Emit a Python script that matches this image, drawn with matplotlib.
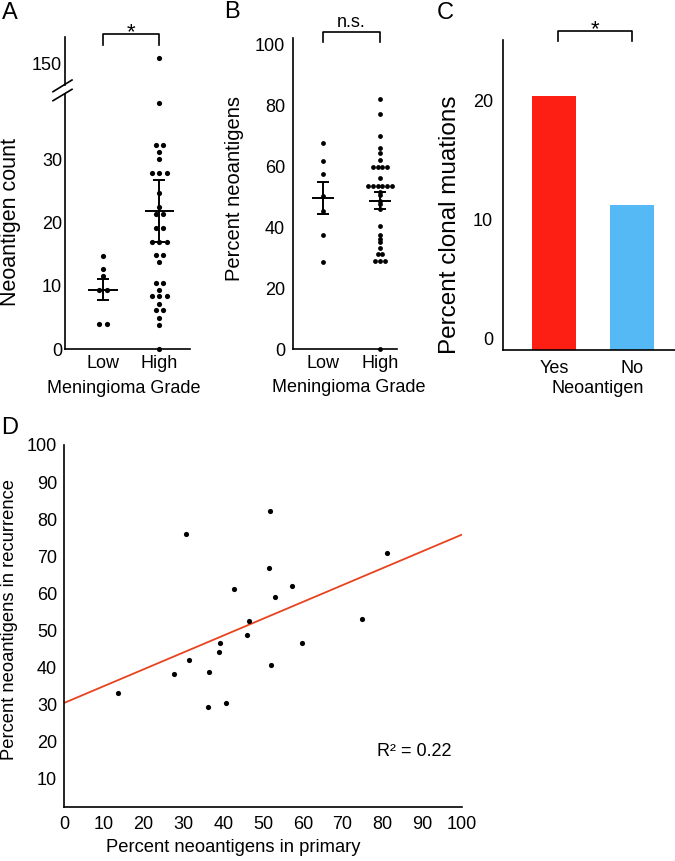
import numpy as np
import matplotlib.pyplot as plt
from matplotlib.lines import Line2D
from matplotlib import transforms

plt.rcParams['font.family'] = ['Liberation Sans', 'DejaVu Sans']

# ---- data ----
grades = ['Low', 'High']

# A: neoantigen count per tumour
count_low = [14.7, 12.6, 11.5, 9.4, 9.4, 3.9, 3.9]
count_high = [150.9, 38.8, 32.2, 32.2, 31.1, 30.0, 27.8, 27.8, 27.8, 24.6,
              22.4, 21.3, 21.3, 19.1, 19.1, 16.9, 16.9, 16.9, 14.8, 14.8,
              13.7, 10.4, 10.4, 9.3, 8.3, 8.3, 8.3, 7.1, 6.1, 6.1, 4.9, 3.8, 0.0]
count_mean = [9.4, 21.8]
count_sem = [1.6, 4.9]

# B: percent neoantigens
pct_low = [67.4, 61.7, 57.5, 50.2, 45.2, 37.5, 28.4]
pct_high = [82.1, 77.1, 70.0, 65.8, 64.2, 61.9, 59.7, 59.7, 59.7, 59.7,
            56.2, 53.4, 53.4, 53.4, 53.4, 53.4, 53.4, 51.5, 50.5, 48.5,
            47.5, 46.0, 40.3, 37.3, 36.2, 35.0, 33.1, 31.2, 31.2, 29.0,
            29.0, 29.0, 0.0]
pct_mean = [49.6, 48.7]
pct_sem = [5.3, 2.7]

# C: percent clonal mutations
neo_groups = ['Yes', 'No']
clonal_pct = [20.4, 11.2]
clonal_colors = ['#fd1f14', '#55b9f5']

# D: primary vs recurrence
primary = [30.7, 51.7, 51.4, 42.8, 53.1, 57.4, 46.5, 45.9, 39.2, 39.0,
           31.4, 27.6, 36.5, 52.0, 13.6, 36.2, 40.6, 81.1, 74.9, 59.9]
recurrence = [75.9, 82.2, 66.7, 61.0, 58.8, 62.0, 52.4, 48.8, 46.4, 44.1,
              42.0, 38.0, 38.6, 40.6, 33.0, 29.1, 30.3, 70.7, 52.9, 46.5]
fit_intercept, fit_slope = 30.3, 0.455
r_squared = 0.22

W, H = 675, 861
fig = plt.figure(figsize=(W / 100, H / 100), dpi=100)


def px_axes(left, top, right, bottom):
    return fig.add_axes([left / W, 1 - bottom / H, (right - left) / W, (bottom - top) / H])


def swarm(values, center, step):
    counts = {}
    for v in values:
        counts[v] = counts.get(v, 0) + 1
    seen = {}
    xs = []
    for v in values:
        n = counts[v]
        i = seen.get(v, 0)
        seen[v] = i + 1
        xs.append(center + (i - (n - 1) / 2) * step)
    return np.array(xs)


def clean(ax, bottom=True):
    for s in ['top', 'right']:
        ax.spines[s].set_visible(False)
    if not bottom:
        ax.spines['bottom'].set_visible(False)
    for s in ax.spines.values():
        s.set_linewidth(1.2)
    ax.tick_params(length=0, labelsize=13)


def bracket(ax, x0, x1, ytop, ybot, label, ylab, size=13):
    tr = transforms.blended_transform_factory(ax.transData, fig.transFigure)
    ax.plot([x0, x0, x1, x1], [1 - ybot / H, 1 - ytop / H, 1 - ytop / H, 1 - ybot / H],
            color='black', lw=1.2, transform=tr, clip_on=False)
    ax.text((x0 + x1) / 2, 1 - ylab / H, label, transform=tr, ha='center',
            va='baseline', fontsize=size)


def panel_letter(x, y, s):
    fig.text(x / W, 1 - y / H, s, fontsize=17, ha='center', va='center')


# ---- A ----
axA = px_axes(65, 94, 190, 349)
axAt = px_axes(65, 37, 190, 84.5)
axA.set_ylim(0, 40.3)
axAt.set_ylim(146.65, 154.15)
for ax in (axA, axAt):
    ax.set_xlim(-0.67, 1.54)
clean(axA)
clean(axAt, bottom=False)
axAt.set_xticks([])
axAt.set_yticks([150])
axA.set_yticks([0, 10, 20, 30])
axA.set_xticks([0, 1], grades)
axA.tick_params(axis='y', pad=2)
axAt.tick_params(axis='y', pad=2)
axA.tick_params(axis='x', pad=4)

for i, vals in enumerate([count_low, count_high]):
    vals = np.array(vals)
    xs = swarm(list(vals), i, 0.135)
    lo = vals < 100
    axA.scatter(xs[lo], vals[lo], s=14, color='black', zorder=3, clip_on=False, lw=0)
    axAt.scatter(xs[~lo], vals[~lo], s=14, color='black', zorder=3, lw=0)
axA.errorbar([0, 1], count_mean, yerr=count_sem, fmt='none', ecolor='black',
             elinewidth=1.4, capsize=4.5, capthick=1.4, zorder=4)
axA.hlines(count_mean, np.arange(2) - 0.26, np.arange(2) + 0.26, color='black', lw=1.4, zorder=4)
axA.set_ylabel('Neoantigen count', fontsize=15.5, va='center')
axA.yaxis.set_label_coords(-0.44, 0.5)
axA.set_xlabel('Meningioma Grade', fontsize=13, va='center')
axA.xaxis.set_label_coords(0.47, -0.153)
bracket(axAt, 0, 1, 34, 45, '*', 38, size=16)
for y1, y2 in [(91.7, 80), (100.7, 89.3)]:
    fig.add_artist(Line2D([53 / W, 72 / W], [1 - y1 / H, 1 - y2 / H],
                          transform=fig.transFigure, color='black', lw=1.2))
panel_letter(10, 13, 'A')

# ---- B ----
axB = px_axes(293.3, 38, 396.7, 349)
axB.set_ylim(0, 102)
axB.set_xlim(-0.51, 1.29)
clean(axB)
axB.set_yticks([0, 20, 40, 60, 80, 100])
axB.set_xticks([0, 1], grades)
axB.tick_params(axis='y', pad=6)
axB.tick_params(axis='x', pad=4)
for i, vals in enumerate([pct_low, pct_high]):
    xs = swarm(vals, i, 0.085)
    axB.scatter(xs, vals, s=12, color='black', zorder=3, clip_on=False, lw=0)
axB.errorbar([0, 1], pct_mean, yerr=pct_sem, fmt='none', ecolor='black',
             elinewidth=1.4, capsize=4, capthick=1.4, zorder=4)
axB.hlines(pct_mean, np.arange(2) - 0.19, np.arange(2) + 0.19, color='black', lw=1.4, zorder=4)
axB.set_ylabel('Percent neoantigens', fontsize=14.5, va='center')
axB.yaxis.set_label_coords(-0.564, 0.516)
axB.set_xlabel('Meningioma Grade', fontsize=13, va='center')
axB.xaxis.set_label_coords(0.532, -0.125)
bracket(axB, 0, 1, 32.3, 41.7, 'n.s.', 27)
panel_letter(232, 12, 'B')

# ---- C ----
axC = px_axes(502.7, 40, 675, 350)
c_floor = -0.99
axC.set_ylim(c_floor, 25.1)
axC.set_xlim(-0.66, 1.55)
clean(axC)
axC.bar([0, 1], np.array(clonal_pct) - c_floor, bottom=c_floor, width=0.57,
        color=clonal_colors, zorder=2)
axC.set_yticks([0, 10, 20])
axC.set_xticks([0, 1], neo_groups)
axC.tick_params(axis='y', pad=7)
axC.tick_params(axis='x', pad=7)
axC.set_ylabel('Percent clonal muations', fontsize=17.5, va='center')
axC.yaxis.set_label_coords(-0.306, 0.403)
axC.set_xlabel('Neoantigen', fontsize=13, va='center')
axC.xaxis.set_label_coords(0.55, -0.123)
bracket(axC, 0.05, 1, 30.7, 40.7, '*', 35, size=16)
panel_letter(445, 13, 'C')

# ---- D ----
axD = px_axes(64, 445, 462, 807)
axD.set_xlim(0, 100)
axD.set_ylim(2.2, 100)
clean(axD)
axD.set_xticks(np.arange(0, 101, 10))
axD.set_yticks(np.arange(10, 101, 10))
axD.tick_params(axis='y', pad=5)
axD.tick_params(axis='x', pad=6.5)
axD.scatter(primary, recurrence, s=14, color='black', zorder=3, lw=0)
fx = np.array([0, 100])
axD.plot(fx, fit_intercept + fit_slope * fx, color='#e8431e', lw=1.3, zorder=2)
axD.text(88, 17.1, f'R\u00b2 = {r_squared:.2f}', fontsize=13, ha='center', va='center')
axD.set_ylabel('Percent neoantigens in recurrence', fontsize=13.2, va='center')
axD.yaxis.set_label_coords(-0.138, 0.519)
axD.set_xlabel('Percent neoantigens in primary', fontsize=13.2, va='center')
axD.xaxis.set_label_coords(0.426, -0.113)
panel_letter(10, 428, 'D')

fig.savefig('out.png', dpi=100)
